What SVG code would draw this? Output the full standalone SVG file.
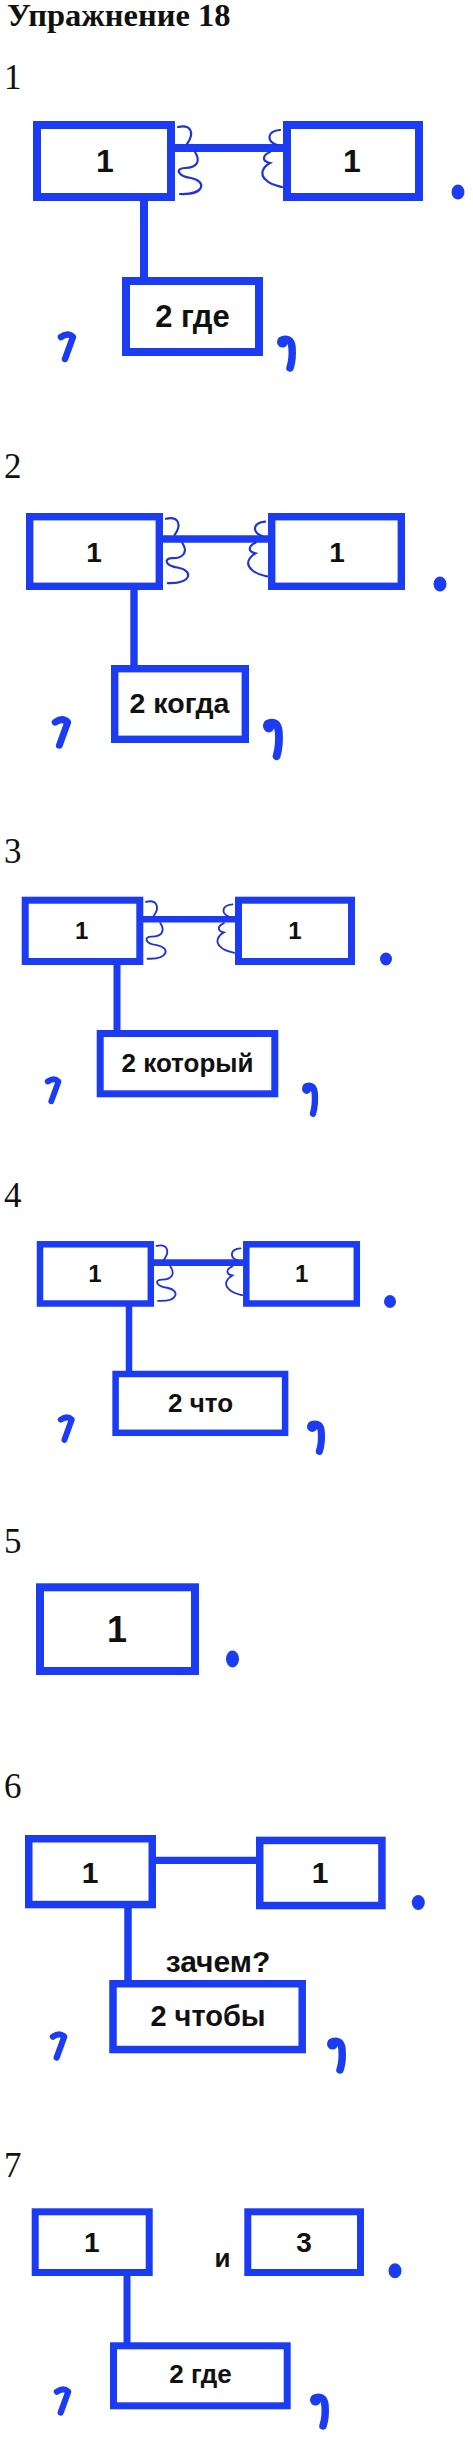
<svg xmlns="http://www.w3.org/2000/svg" xmlns:xlink="http://www.w3.org/1999/xlink" width="473" height="2441" viewBox="0 0 473 2441">
<style>
.box{fill:#fff;stroke:#1b3cf2}
.ln{stroke:#1b3cf2;fill:none}
.t{font-family:"Liberation Sans",Arial,sans-serif;font-weight:bold;fill:#111;text-anchor:middle}
.num{font-family:"Liberation Serif","Times New Roman",serif;font-size:35px;fill:#111}
.sq{fill:none;stroke:#1f33d6;stroke-width:2.2;stroke-linecap:round}
.cm{fill:none;stroke:#1b3cf2;stroke-width:6.5;stroke-linecap:round;stroke-linejoin:round}
.cmr{fill:none;stroke:#1b3cf2;stroke-width:7.5;stroke-linecap:round;stroke-linejoin:round}
.dot{fill:#1b3cf2}
</style>
<defs>
<path id="sqL" class="sq" d="M3,6 C16,3 20,12 12,23 M20,31 C26,40 22,47 10,47 C0,47 2,55 16,57 C32,60 30,74 5,73"/>
<path id="sqR" class="sq" d="M-3,9 C-16,10 -17,20 -6,24 M-13,31 C-20,34 -22,40 -13,42 C-20,46 -24,53 -17,59 C-12,64 -5,65 -1,66"/>
<path id="cmL" class="cm" d="M3,5 Q10,0 15,5 L7,27"/>
<g id="cmR"><circle cx="5.5" cy="7" r="5.5" class="dot"/><path class="cmr" d="M5,5 Q14,2 15,12 Q16,24 13,33"/></g>
</defs>
<rect width="473" height="2441" fill="#fff"/>
<text x="7" y="26" font-family="'Liberation Serif','Times New Roman',serif" font-weight="bold" font-size="32.5" fill="#111">Упражнение 18</text>
<text class="num" x="4" y="89">1</text>
<text class="num" x="4" y="478">2</text>
<text class="num" x="4" y="863">3</text>
<text class="num" x="4" y="1207">4</text>
<text class="num" x="4" y="1553">5</text>
<text class="num" x="4" y="1798">6</text>
<text class="num" x="4" y="2177">7</text>

<g id="connectors">
<line class="ln" stroke-width="8" x1="171" y1="148" x2="287" y2="148"/>
<line class="ln" stroke-width="8" x1="144" y1="197" x2="144" y2="281"/>
<line class="ln" stroke-width="7.4" x1="159" y1="539" x2="272" y2="539"/>
<line class="ln" stroke-width="7.4" x1="134" y1="586" x2="134" y2="669"/>
<line class="ln" stroke-width="6.5" x1="139" y1="919.3" x2="239" y2="919.3"/>
<line class="ln" stroke-width="7" x1="117" y1="961" x2="117" y2="1034"/>
<line class="ln" stroke-width="6.7" x1="150" y1="1262.7" x2="247" y2="1262.7"/>
<line class="ln" stroke-width="6.5" x1="129" y1="1303" x2="129" y2="1374"/>
<line class="ln" stroke-width="7.3" x1="152" y1="1860.3" x2="260" y2="1860.3"/>
<line class="ln" stroke-width="7.5" x1="128" y1="1904" x2="128" y2="1984"/>
<line class="ln" stroke-width="7" x1="127" y1="2272" x2="127" y2="2346"/>
</g>

<g id="s1a"><rect class="box" stroke-width="8" x="37" y="125" width="134" height="72"/><text class="t" font-size="32" x="105" y="172">1</text></g>
<g id="s1b"><rect class="box" stroke-width="8" x="287" y="125" width="132" height="72"/><text class="t" font-size="32" x="352" y="172">1</text></g>
<g id="s1c"><rect class="box" stroke-width="8" x="126" y="281" width="133" height="71"/><text class="t" font-size="31" x="192.5" y="327">2 где</text></g>

<g id="s2a"><rect class="box" stroke-width="7.4" x="29.7" y="516.7" width="129.6" height="69.6"/><text class="t" font-size="28" x="94" y="561.7">1</text></g>
<g id="s2b"><rect class="box" stroke-width="7.4" x="271.7" y="516.7" width="129.6" height="69.6"/><text class="t" font-size="28" x="337" y="561.7">1</text></g>
<g id="s2c"><rect class="box" stroke-width="7.4" x="114.7" y="668.7" width="130.6" height="70.6"/><text class="t" font-size="28.5" x="179.5" y="713.3">2 когда</text></g>

<g id="s3a"><rect class="box" stroke-width="7" x="25.2" y="900.2" width="114.6" height="61.3"/><text class="t" font-size="24" x="81.7" y="939">1</text></g>
<g id="s3b"><rect class="box" stroke-width="7" x="238.5" y="900.2" width="113" height="61.3"/><text class="t" font-size="24" x="295" y="939">1</text></g>
<g id="s3c"><rect class="box" stroke-width="7" x="100.2" y="1033.5" width="174.6" height="60.3"/><text class="t" font-size="26" x="187.5" y="1072.3">2 который</text></g>

<g id="s4a"><rect class="box" stroke-width="6.5" x="40" y="1244.3" width="110.8" height="59.2"/><text class="t" font-size="24" x="95" y="1281.7">1</text></g>
<g id="s4b"><rect class="box" stroke-width="6.5" x="246.3" y="1244.3" width="110.5" height="59.2"/><text class="t" font-size="24" x="301.7" y="1281.7">1</text></g>
<g id="s4c"><rect class="box" stroke-width="6.5" x="115.6" y="1374" width="169.5" height="58.8"/><text class="t" font-size="26" x="200.5" y="1411.7">2 что</text></g>

<g id="s5a"><rect class="box" stroke-width="8" x="40" y="1587.3" width="155" height="83.7"/><text class="t" font-size="36" x="117" y="1641.7">1</text></g>

<g id="s6a"><rect class="box" stroke-width="7.5" x="28.75" y="1838.75" width="123.5" height="65.8"/><text class="t" font-size="30" x="90" y="1883.3">1</text></g>
<g id="s6b"><rect class="box" stroke-width="7.5" x="259.75" y="1840.45" width="122.2" height="65.1"/><text class="t" font-size="30" x="320" y="1883.3">1</text></g>
<g id="s6q"><text class="t" font-size="30" x="218" y="1971.7">зачем?</text></g>
<g id="s6c"><rect class="box" stroke-width="7.5" x="113" y="1983.75" width="189.2" height="65.8"/><text class="t" font-size="29" x="208" y="2026">2 чтобы</text></g>

<g id="s7a"><rect class="box" stroke-width="7" x="35.2" y="2211.8" width="114" height="60.7"/><text class="t" font-size="28" x="91.7" y="2251.7">1</text></g>
<g id="s7i"><text class="t" font-size="26" x="222.5" y="2266.7">и</text></g>
<g id="s7b"><rect class="box" stroke-width="7" x="247.8" y="2211.8" width="112.7" height="60.7"/><text class="t" font-size="28" x="304" y="2251.7">3</text></g>
<g id="s7c"><rect class="box" stroke-width="7" x="113.5" y="2345.8" width="173.7" height="60"/><text class="t" font-size="26" x="200.5" y="2383.3">2 где</text></g>

<g id="marks">
<use xlink:href="#sqL" transform="translate(175,121)"/>
<use xlink:href="#sqR" transform="translate(283,121)"/>
<use xlink:href="#sqL" transform="translate(163,513) scale(0.96)"/>
<use xlink:href="#sqR" transform="translate(268,513) scale(0.96)"/>
<use xlink:href="#sqL" transform="translate(143.3,896.7) scale(0.85)"/>
<use xlink:href="#sqR" transform="translate(235,896.7) scale(0.85)"/>
<use xlink:href="#sqL" transform="translate(154,1241) scale(0.82)"/>
<use xlink:href="#sqR" transform="translate(243,1241) scale(0.82)"/>

<ellipse class="dot" cx="458" cy="192" rx="6.5" ry="7.5"/>
<ellipse class="dot" cx="440" cy="584" rx="6.5" ry="7.5"/>
<ellipse class="dot" cx="386" cy="959" rx="6" ry="6.5"/>
<ellipse class="dot" cx="390" cy="1301.5" rx="6" ry="6.5"/>
<ellipse class="dot" cx="232.5" cy="1659" rx="6.5" ry="8.5"/>
<ellipse class="dot" cx="418.3" cy="1902.5" rx="6.5" ry="7.5"/>
<ellipse class="dot" cx="395" cy="2270.7" rx="6.5" ry="7.5"/>

<use xlink:href="#cmL" transform="translate(58,332)"/>
<use xlink:href="#cmR" transform="translate(277,335)"/>
<use xlink:href="#cmL" transform="translate(52,717) scale(1.05)"/>
<use xlink:href="#cmR" transform="translate(263,718) scale(1.05,1.15)"/>
<use xlink:href="#cmL" transform="translate(45,1077) scale(0.9)"/>
<use xlink:href="#cmR" transform="translate(302,1082) scale(0.85,0.95)"/>
<use xlink:href="#cmL" transform="translate(58,1415) scale(0.92)"/>
<use xlink:href="#cmR" transform="translate(307,1420) scale(0.95)"/>
<use xlink:href="#cmL" transform="translate(50,2032) scale(0.95)"/>
<use xlink:href="#cmR" transform="translate(327,2037)"/>
<use xlink:href="#cmL" transform="translate(54,2387) scale(0.95)"/>
<use xlink:href="#cmR" transform="translate(310,2393)"/>
</g>
</svg>
